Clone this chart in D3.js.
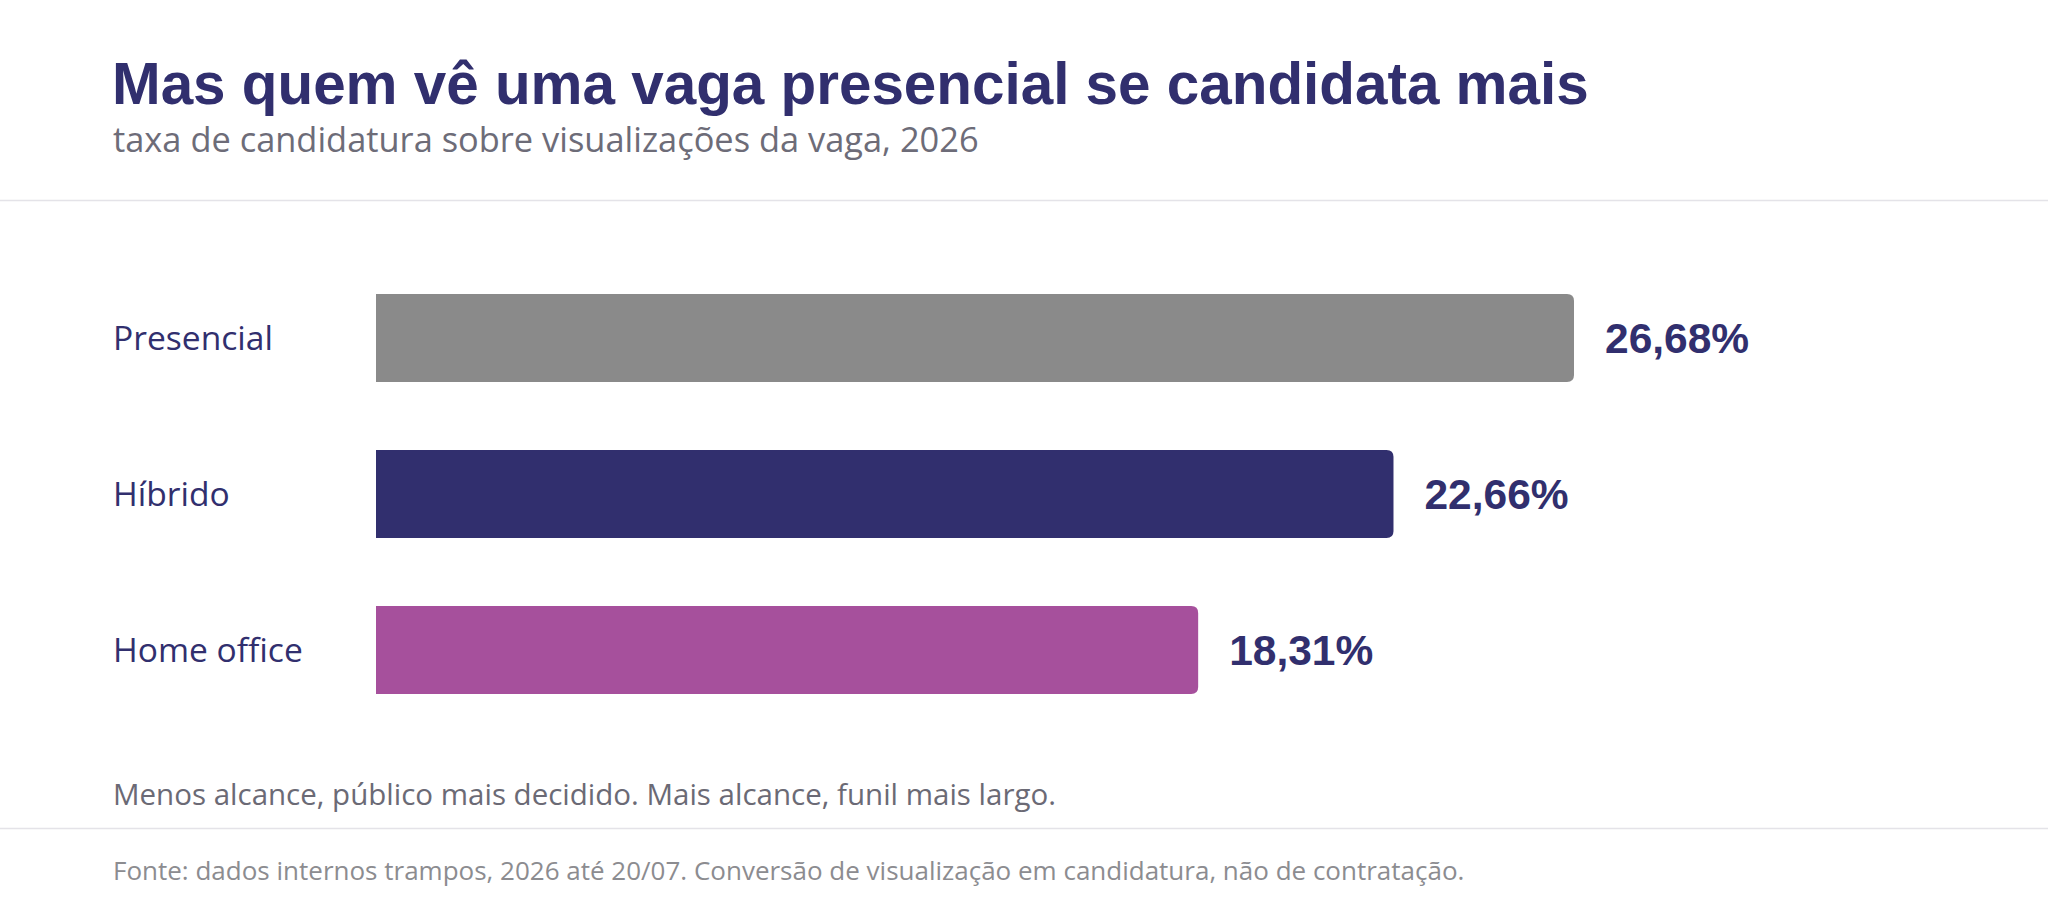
<!DOCTYPE html>
<html>
<head>
<meta charset="utf-8">
<script src="https://cdn.jsdelivr.net/npm/d3@7"></script>
<style>
    html, body { margin: 0; padding: 0; background: #ffffff; }
    svg { display: block; }
</style>
</head>
<body>
<div id="chart"></div>
<script>
// chart data
var categories = ['Presencial', 'Híbrido', 'Home office'];
var values = [26.68, 22.66, 18.31];
var colors = ['#8a8a8a', '#312f6e', '#a6509c'];

// texts
var title = 'Mas quem vê uma vaga presencial se candidata mais';
var subtitle = 'taxa de candidatura sobre visualizações da vaga, 2026';
var note = 'Menos alcance, público mais decidido. Mais alcance, funil mais largo.';
var source = 'Fonte: dados internos trampos, 2026 até 20/07. Conversão de visualização em candidatura, não de contratação.';

var width = 2048,
    height = 920,
    navy = '#312f6e',
    sans = '"Open Sans", "Noto Sans", sans-serif',
    bold = '"Liberation Sans", Arial, sans-serif';

var svg = d3.select('#chart')
    .append('svg')
    .attr('width', width)
    .attr('height', height);

// header
svg.append('text')
    .attr('x', 112)
    .attr('y', 104)
    .attr('fill', navy)
    .style('font-family', bold)
    .style('font-weight', 700)
    .style('font-size', '58.4px')
    .text(title);

svg.append('text')
    .attr('x', 113)
    .attr('y', 152)
    .attr('fill', '#6d6c78')
    .style('font-family', sans)
    .style('font-size', '34.4px')
    .text(subtitle);

// separator lines
[200.5, 828.5].forEach(function(y) {
    svg.append('line')
        .attr('x1', 0)
        .attr('x2', width)
        .attr('y1', y)
        .attr('y2', y)
        .attr('stroke', '#e4e3e8')
        .attr('stroke-width', 1.5);
});

// scales
var x = d3.scaleLinear()
    .domain([0, d3.max(values)])
    .range([376, 1574]);

var y = d3.scaleBand()
    .domain(categories)
    .range([260, 728])
    .paddingInner(0.436)
    .paddingOuter(0.218);

// bar with rounded right corners only
function barPath(x0, y0, w, h, r) {
    return 'M' + x0 + ',' + y0 +
        'H' + (x0 + w - r) +
        'Q' + (x0 + w) + ',' + y0 + ' ' + (x0 + w) + ',' + (y0 + r) +
        'V' + (y0 + h - r) +
        'Q' + (x0 + w) + ',' + (y0 + h) + ' ' + (x0 + w - r) + ',' + (y0 + h) +
        'H' + x0 + 'Z';
}

var rows = categories.map(function(c, i) {
    return {name: c, value: values[i], color: colors[i]};
});

var g = svg.append('g');

g.selectAll('path.bar')
    .data(rows)
    .join('path')
    .attr('class', 'bar')
    .attr('fill', function(d) { return d.color; })
    .attr('d', function(d) {
        return barPath(x(0), y(d.name), x(d.value) - x(0), y.bandwidth(), 7);
    });

// category labels
g.selectAll('text.cat')
    .data(rows)
    .join('text')
    .attr('class', 'cat')
    .attr('x', 113)
    .attr('y', function(d) { return y(d.name) + y.bandwidth() / 2; })
    .attr('dy', '0.36em')
    .attr('fill', navy)
    .style('font-family', sans)
    .style('font-size', '33.6px')
    .text(function(d) { return d.name; });

// value labels
var fmt = function(v) { return v.toFixed(2).replace('.', ',') + '%'; };

g.selectAll('text.val')
    .data(rows)
    .join('text')
    .attr('class', 'val')
    .attr('x', function(d) { return x(d.value) + 31; })
    .attr('y', function(d) { return y(d.name) + y.bandwidth() / 2; })
    .attr('dy', '0.36em')
    .attr('fill', navy)
    .style('font-family', bold)
    .style('font-weight', 700)
    .style('font-size', '42.5px')
    .text(function(d) { return fmt(d.value); });

// footer
svg.append('text')
    .attr('x', 113)
    .attr('y', 805)
    .attr('fill', '#6b6a75')
    .style('font-family', sans)
    .style('font-size', '29.5px')
    .text(note);

svg.append('text')
    .attr('x', 113)
    .attr('y', 880)
    .attr('fill', '#8c8c90')
    .style('font-family', sans)
    .style('font-size', '26px')
    .text(source);
</script>
</body>
</html>
